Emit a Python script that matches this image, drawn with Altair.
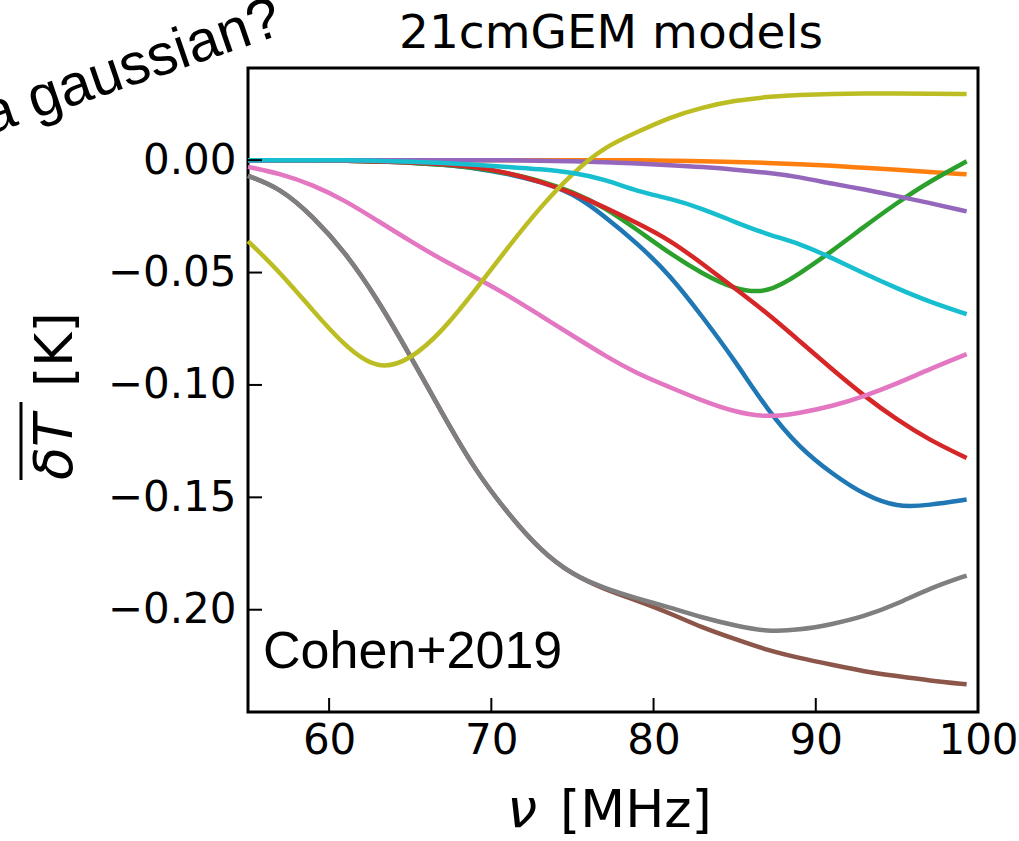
import altair as alt
import pandas as pd

# frequency grid [MHz]
nu = [55, 57, 59, 61, 63, 65, 67, 69, 71, 73, 75, 77, 79, 81, 83, 85, 87, 89, 91, 93, 95, 97, 99.3]

blue = [0.0, 0.0, 0.0, -0.0003, -0.0006, -0.001, -0.002, -0.0035, -0.006, -0.0095, -0.0145, -0.025,
        -0.037, -0.051, -0.0695, -0.089, -0.111, -0.128, -0.1395, -0.149, -0.1545, -0.1535, -0.151]
orange = [0.0, 0.0, 0.0, 0.0, 0.0, 0.0, 0.0, 0.0, 0.0, 0.0, 0.0, 0.0, 0.0, -0.0002, -0.0005,
          -0.0008, -0.0012, -0.0018, -0.0025, -0.0034, -0.0043, -0.0053, -0.0063]
green = [0.0, 0.0, 0.0, -0.0003, -0.0006, -0.001, -0.002, -0.0033, -0.0058, -0.009, -0.014, -0.021,
         -0.031, -0.0415, -0.0505, -0.0575, -0.0595, -0.0505, -0.0405, -0.0295, -0.019, -0.0095, -0.0005]
red = [0.0, 0.0, 0.0, -0.0003, -0.0006, -0.001, -0.0018, -0.003, -0.0055, -0.0095, -0.0145, -0.021,
       -0.028, -0.0355, -0.046, -0.057, -0.068, -0.0805, -0.093, -0.105, -0.1155, -0.1245, -0.1325]
purple = [0.0, 0.0, 0.0, 0.0, 0.0, 0.0, 0.0, 0.0, 0.0, -0.0002, -0.0005, -0.0009, -0.0015, -0.0022,
          -0.003, -0.0042, -0.0055, -0.0075, -0.0105, -0.013, -0.016, -0.019, -0.0228]
brown = [-0.007, -0.0125, -0.025, -0.041, -0.062, -0.087, -0.113, -0.138, -0.157, -0.1735, -0.1845,
         -0.191, -0.196, -0.2015, -0.208, -0.213, -0.218, -0.2215, -0.2245, -0.2275, -0.2295, -0.2315, -0.2332]
pink = [-0.003, -0.006, -0.011, -0.018, -0.027, -0.036, -0.0445, -0.052, -0.06, -0.069, -0.078,
        -0.087, -0.095, -0.101, -0.107, -0.112, -0.1145, -0.1125, -0.1095, -0.105, -0.0995, -0.093, -0.0863]
gray = [-0.007, -0.0125, -0.025, -0.041, -0.062, -0.087, -0.113, -0.138, -0.157, -0.1735, -0.1845,
        -0.1905, -0.195, -0.199, -0.2035, -0.207, -0.2098, -0.209, -0.2065, -0.203, -0.1975, -0.1905, -0.1848]
olive = [-0.036, -0.050, -0.067, -0.083, -0.0935, -0.089, -0.076, -0.058, -0.039, -0.021, -0.0057,
         0.006, 0.0125, 0.019, 0.0235, 0.0265, 0.0282, 0.029, 0.0295, 0.0297, 0.0297, 0.0296, 0.0294]
cyan = [0.0, 0.0, 0.0, 0.0, -0.0003, -0.0007, -0.0013, -0.002, -0.003, -0.004, -0.0055, -0.0085,
        -0.014, -0.017, -0.0215, -0.0275, -0.033, -0.037, -0.0435, -0.0505, -0.057, -0.063, -0.0685]

names = ["model 1", "model 2", "model 3", "model 4", "model 5",
         "model 6", "model 7", "model 8", "model 9", "model 10"]
series = [blue, orange, green, red, purple, brown, pink, gray, olive, cyan]
colors = ["#1f77b4", "#ff7f0e", "#2ca02c", "#d62728", "#9467bd",
          "#8c564b", "#e377c2", "#7f7f7f", "#bcbd22", "#17becf"]

x_ticks = [60, 70, 80, 90, 100]
y_ticks = [0.0, -0.05, -0.10, -0.15, -0.20]

rows = []
for name, vals in zip(names, series):
    for x, y in zip(nu, vals):
        rows.append({"model": name, "nu": x, "dT": y})
df = pd.DataFrame(rows)

W, H = 730, 644
x_scale = alt.Scale(domain=[55, 100], nice=False, zero=False)
y_scale = alt.Scale(domain=[-0.2455, 0.041], nice=False, zero=False)

lines = alt.Chart(df).mark_line(strokeWidth=4.5, interpolate="basis").encode(
    x=alt.X("nu:Q", scale=x_scale,
            axis=alt.Axis(values=x_ticks, ticks=False, domain=False, grid=False,
                          labelFontSize=42, labelFont="DejaVu Sans", labelColor="black",
                          labelPadding=8, labelFlush=False, title=None)),
    y=alt.Y("dT:Q", scale=y_scale,
            axis=alt.Axis(values=y_ticks, format=".2f", ticks=False, domain=False, grid=False,
                          labelFontSize=42, labelFont="DejaVu Sans", labelColor="black",
                          labelPadding=12, labelFlush=False, title=None)),
    color=alt.Color("model:N", scale=alt.Scale(domain=names, range=colors), legend=None),
)

xt = alt.Chart(pd.DataFrame({"nu": x_ticks[:-1]})).mark_rule(color="black", strokeWidth=2).encode(
    x=alt.X("nu:Q", scale=x_scale), y=alt.value(H), y2=alt.value(H - 14))
yt = alt.Chart(pd.DataFrame({"dT": y_ticks})).mark_rule(color="black", strokeWidth=2).encode(
    y=alt.Y("dT:Q", scale=y_scale), x=alt.value(0), x2=alt.value(14))

one = pd.DataFrame({"a": [0]})


def label(text, x, y, size, font="DejaVu Sans", align="left", angle=0, style="normal"):
    return alt.Chart(one).mark_text(
        text=text, align=align, baseline="alphabetic", font=font, fontSize=size,
        angle=angle, fontStyle=style, color="black").encode(x=alt.value(x), y=alt.value(y))


title = label("21cmGEM models", 363, -20, 47, align="center")
xlab1 = label("ν", 259, 759, 54, style="italic")
xlab2 = label("[MHz]", 312, 759, 52)
ylab1 = label("δT", -176, 412, 54, angle=270, style="italic")
ylab2 = label("[K]", -176, 319, 52, angle=270)
ybar = alt.Chart(one).mark_rule(color="black", strokeWidth=3).encode(
    x=alt.value(-227), y=alt.value(334), y2=alt.value(412))
cohen = label("Cohen+2019", 15, 600, 52, font="Liberation Sans")
gauss = label("a gaussian?", 37, -35, 58, font="Liberation Sans", align="right", angle=341)

chart = alt.layer(lines, xt, yt, title, xlab1, xlab2, ylab1, ylab2, ybar, cohen, gauss).properties(
    width=W, height=H,
    autosize=alt.AutoSizeParams(type="none"),
    padding={"left": 248, "top": 68, "right": 41, "bottom": 129},
).configure_view(stroke="black", strokeWidth=3)

chart.save("out.html", embed_options={"renderer": "svg", "actions": False})
